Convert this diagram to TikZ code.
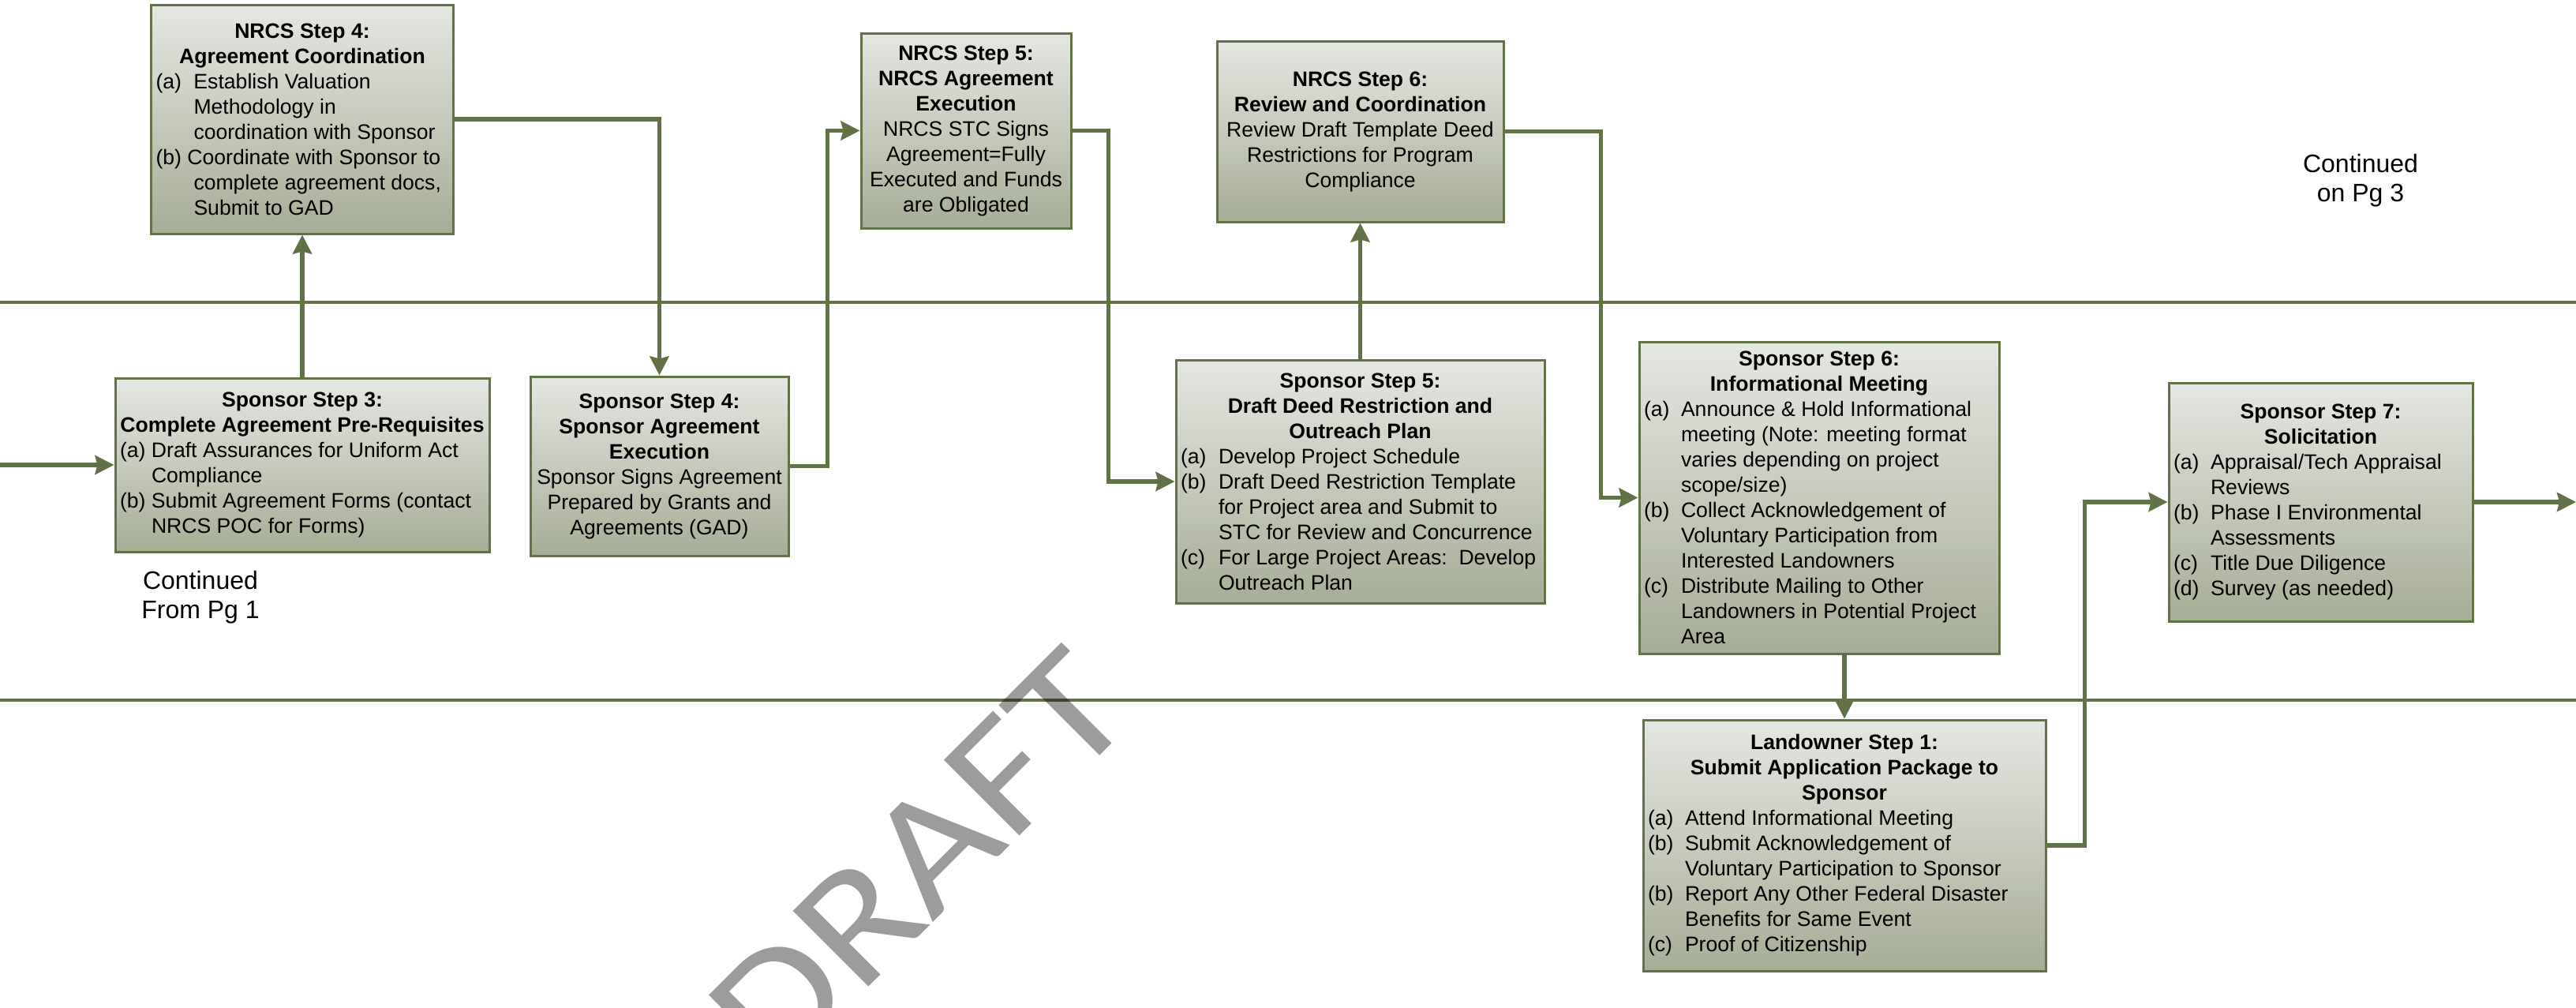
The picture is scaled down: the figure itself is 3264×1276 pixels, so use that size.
\documentclass[tikz,border=0pt]{standalone}
\usepackage{fontspec}
\setmainfont{Liberation Sans}
\newfontfamily\wmfont{Carlito}
\usetikzlibrary{arrows.meta}
\definecolor{lineg}{HTML}{607246}
\definecolor{btop}{HTML}{E5E7E2}
\definecolor{bbot}{HTML}{A6AD95}
\newlength\bw
\newcommand\ctr[1]{\makebox[\bw][c]{#1}}
\newcommand\itm[3][23.5pt]{\makebox[\bw][l]{\makebox[#1][l]{#2}#3}}
\newcommand\cnt[2][23.5pt]{\makebox[\bw][l]{\hspace*{#1}#2}}
\newcommand\lft[1]{\makebox[\bw][l]{#1}}
\tikzset{
  box/.style={draw=lineg, line width=1.5pt, top color=btop, bottom color=bbot,
    align=center, inner xsep=3pt, inner ysep=0pt, font=\fontsize{13.3}{16}\selectfont},
  conn/.style={draw=lineg, line width=2.6pt, -{Stealth[length=12pt,width=12pt,inset=1.5pt]}},
  divider/.style={draw=lineg, line width=1.6pt},
  note/.style={align=center, font=\fontsize{16}{18.7}\selectfont},
  watermark/.style={text=black, text opacity=0.39, inner sep=0pt,
    font=\wmfont\fontsize{105.5}{105.5}\selectfont},
}
\begin{document}
\begin{tikzpicture}[x=0.5pt,y=0.5pt]
\useasboundingbox (0,0) rectangle (3264,-1276);
\clip (0,0) rectangle (3264,-1276);
\fill[white] (0,0) rectangle (3264,-1276);

% lane dividers
\coordinate (d1l) at (0,-383); \coordinate (d1r) at (3264,-383);
\coordinate (d2l) at (0,-887); \coordinate (d2r) at (3264,-887);
\draw[divider] (d1l) -- (d1r);
\draw[divider] (d2l) -- (d2r);

% NRCS lane
\setlength\bw{185.5pt}
\node[box, minimum width=191.5pt, minimum height=145pt] (n4) at (383,-151) {%
\ctr{\bfseries NRCS Step 4:}\\
\ctr{\bfseries Agreement Coordination}\\
\itm[24pt]{(a)}{Establish Valuation}\\
\cnt[24pt]{Methodology in}\\
\cnt[24pt]{coordination with Sponsor}\\
\lft{(b) Coordinate with Sponsor to}\\
\cnt[24pt]{complete agreement docs,}\\
\cnt[24pt]{Submit to GAD}};

\setlength\bw{127pt}
\node[box, minimum width=133pt, minimum height=123.5pt] (n5) at (1224,-165.5) {%
\ctr{\bfseries NRCS Step 5:}\\
\ctr{\bfseries NRCS Agreement}\\
\ctr{\bfseries Execution}\\
\ctr{NRCS STC Signs}\\
\ctr{Agreement=Fully}\\
\ctr{Executed and Funds}\\
\ctr{are Obligated}};

\setlength\bw{175.5pt}
\node[box, minimum width=181.5pt, minimum height=114.5pt] (n6) at (1723.5,-166.5) {%
\ctr{\bfseries NRCS Step 6:}\\
\ctr{\bfseries Review and Coordination}\\
\ctr{Review Draft Template Deed}\\
\ctr{Restrictions for Program}\\
\ctr{Compliance}};

% Sponsor lane
\setlength\bw{231pt}
\node[box, minimum width=237pt, minimum height=110pt] (ss3) at (383,-589) {%
\ctr{\bfseries Sponsor Step 3:}\\
\ctr{\bfseries Complete Agreement Pre-Requisites}\\
\itm[20pt]{(a)}{Draft Assurances for Uniform Act}\\
\cnt[20pt]{Compliance}\\
\itm[20pt]{(b)}{Submit Agreement Forms (contact}\\
\cnt[20pt]{NRCS POC for Forms)}};

\setlength\bw{157.5pt}
\node[box, minimum width=163.5pt, minimum height=113.5pt] (ss4) at (835.5,-590.5) {%
\ctr{\bfseries Sponsor Step 4:}\\
\ctr{\bfseries Sponsor Agreement}\\
\ctr{\bfseries Execution}\\
\ctr{Sponsor Signs Agreement}\\
\ctr{Prepared by Grants and}\\
\ctr{Agreements (GAD)}};

\setlength\bw{227.5pt}
\node[box, minimum width=233.5pt, minimum height=154pt] (ss5) at (1723.5,-610) {%
\ctr{\bfseries Sponsor Step 5:}\\
\ctr{\bfseries Draft Deed Restriction and}\\
\ctr{\bfseries Outreach Plan}\\
\itm[24pt]{(a)}{Develop Project Schedule}\\
\itm[24pt]{(b)}{Draft Deed Restriction Template}\\
\cnt[24pt]{for Project area and Submit to}\\
\cnt[24pt]{STC for Review and Concurrence}\\
\itm[24pt]{(c)}{For Large Project Areas:\ \ Develop}\\
\cnt[24pt]{Outreach Plan}};

\setlength\bw{222pt}
\node[box, minimum width=228pt, minimum height=197.5pt] (ss6) at (2305,-630.5) {%
\ctr{\bfseries Sponsor Step 6:}\\
\ctr{\bfseries Informational Meeting}\\
\itm{(a)}{Announce \& Hold Informational}\\
\cnt{meeting (Note: meeting format}\\
\cnt{varies depending on project}\\
\cnt{scope/size)}\\
\itm{(b)}{Collect Acknowledgement of}\\
\cnt{Voluntary Participation from}\\
\cnt{Interested Landowners}\\
\itm{(c)}{Distribute Mailing to Other}\\
\cnt{Landowners in Potential Project}\\
\cnt{Area}};

\setlength\bw{186.5pt}
\node[box, minimum width=192.5pt, minimum height=151pt] (ss7) at (2940.5,-636) {%
\ctr{\bfseries Sponsor Step 7:}\\
\ctr{\bfseries Solicitation}\\
\itm{(a)}{Appraisal/Tech Appraisal}\\
\cnt{Reviews}\\
\itm{(b)}{Phase I Environmental}\\
\cnt{Assessments}\\
\itm{(c)}{Title Due Diligence}\\
\itm{(d)}{Survey (as needed)}};

% Landowner lane
\setlength\bw{249pt}
\node[box, minimum width=255pt, minimum height=159pt] (lo1) at (2337,-1071) {%
\ctr{\bfseries Landowner Step 1:}\\
\ctr{\bfseries Submit Application Package to}\\
\ctr{\bfseries Sponsor}\\
\itm{(a)}{Attend Informational Meeting}\\
\itm{(b)}{Submit Acknowledgement of}\\
\cnt{Voluntary Participation to Sponsor}\\
\itm{(b)}{Report Any Other Federal Disaster}\\
\cnt{Benefits for Same Event}\\
\itm{(c)}{Proof of Citizenship}};

% notes
\node[note] (cont3) at (2991,-229) {Continued\\on Pg 3};
\node[note] (cont1) at (254,-757) {Continued\\From Pg 1};

% connectors
\coordinate (inL) at (0,-589);
\coordinate (outR) at (3264,-636);
\draw[conn] (inL) -- (ss3.west);
\draw[conn] (ss3.north) -- (n4.south);
\draw[conn] (n4.east) -| (ss4.north);
\draw[conn] (ss4.east) -- ++(48,0) |- (n5.west);
\draw[conn] (n5.east) -- ++(46,0) |- (ss5.west);
\draw[conn] (ss5.north) -- (n6.south);
\draw[conn] (n6.east) -- ++(122,0) |- (ss6.west);
\draw[conn] (ss6.south -| lo1.north) -- (lo1.north);
\draw[conn] (lo1.east) -- ++(48,0) |- (ss7.west);
\draw[conn] (ss7.east) -- (outR);

% watermark
\node[watermark, rotate=45, xscale=1.15] (wm) at (1165,-1090) {DRAFT};
\end{tikzpicture}
\end{document}
